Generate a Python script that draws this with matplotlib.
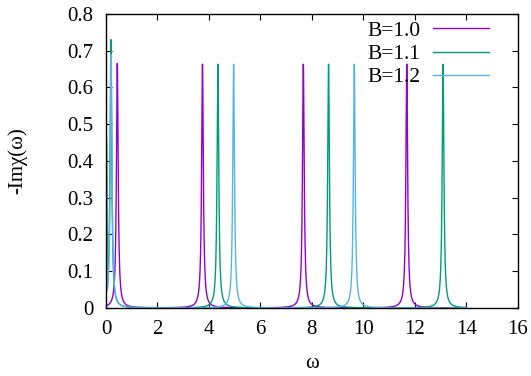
import numpy as np
import matplotlib
matplotlib.use("Agg")
import matplotlib.pyplot as plt

plt.rcParams['font.family'] = ['Liberation Serif', 'DejaVu Serif']

# peak positions / heights
labels = ["B=1.0", "B=1.1", "B=1.2"]
colors = ["#9400D3", "#009E73", "#56B4E9"]
centers_b10 = [0.44, 3.75, 7.67, 11.69]
heights_b10 = [0.665, 0.663, 0.663, 0.663]
centers_b11 = [0.19, 4.35, 8.65, 13.1]
heights_b11 = [0.73, 0.663, 0.663, 0.663]
centers_b12 = [0.20, 4.96, 9.65]
heights_b12 = [0.69, 0.663, 0.663]
width = 0.04   # half width of each peak
# odd first samples near omega=0
start_b11 = ([0.0, 0.03], [0.51, 0.43])
start_b12 = ([0.03], [0.17])
omega_max = 14.0


def spectrum(w, centers, heights):
    y = np.zeros_like(w)
    for c, h in zip(centers, heights):
        y += h / (1 + ((w - c) / width) ** 2)
    return y


fig = plt.figure(figsize=(5.31, 3.76), dpi=100)
ax = fig.add_axes([0.1996, 0.181, 0.7753, 0.782])

w = np.arange(0, omega_max + 0.0025, 0.0025)
y10 = spectrum(w, centers_b10, heights_b10)
w2 = w[w > 0.05]
y11 = spectrum(w2, centers_b11, heights_b11)
y12 = spectrum(w2, centers_b12, heights_b12)
w11 = np.concatenate([start_b11[0], w2])
y11 = np.concatenate([start_b11[1], y11])
w12 = np.concatenate([start_b12[0], w2])
y12 = np.concatenate([start_b12[1], y12])

ax.plot(w, y10, color=colors[0], lw=1, label=labels[0])
ax.plot(w11, y11, color=colors[1], lw=1, label=labels[1])
ax.plot(w12, y12, color=colors[2], lw=1, label=labels[2])

ax.set_xlim(0, 16)
ax.set_ylim(0, 0.8)
ax.set_xticks(range(0, 17, 2))
ax.set_yticks(np.arange(0, 0.81, 0.1))
ax.set_yticklabels(["0", "0.1", "0.2", "0.3", "0.4", "0.5", "0.6", "0.7", "0.8"])
ax.tick_params(direction='in', top=True, right=True, length=4.5, width=0.8,
               labelsize=15)
ax.tick_params(axis='y', pad=9)
ax.tick_params(axis='x', pad=9)
for s in ax.spines.values():
    s.set_linewidth(1)

ax.set_xlabel("ω", fontsize=15, va='center')
ax.set_ylabel("-Imχ(ω)", fontsize=15, va='center')
ax.xaxis.set_label_coords(0.5, -0.19)
ax.yaxis.set_label_coords(-0.215, 0.5)

ax.legend(loc='upper right', bbox_to_anchor=(0.952, 1.006), markerfirst=False,
          frameon=False, fontsize=15.5, handlelength=2.6, handletextpad=0.6,
          labelspacing=0.15, borderaxespad=0.0)

fig.savefig("out.png", dpi=100)
